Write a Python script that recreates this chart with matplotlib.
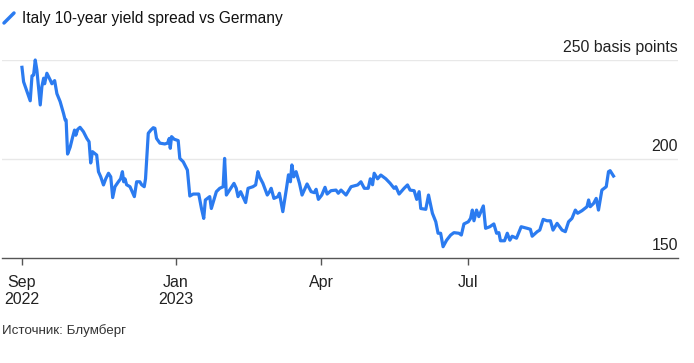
import numpy as np
import pandas as pd
import matplotlib
matplotlib.use('Agg')
import matplotlib.pyplot as plt
from matplotlib.lines import Line2D

plt.rcParams['font.family'] = ['Liberation Sans', 'DejaVu Sans']

# spread data, days counted from the first point
start_date = pd.Timestamp('2022-09-28')
day_offsets = [
    0.0, 1.0, 3.1, 5.1, 6.2, 7.2, 8.2, 9.2, 11.3, 12.3, 13.4, 14.0, 15.4, 17.4, 18.5,
    20.2, 21.6, 23.6, 25.7, 26.7, 27.3, 28.2, 29.8, 31.3, 32.5, 33.3, 34.5, 35.9, 38.0,
    40.1, 41.5, 42.5, 43.6, 46.2, 47.3, 48.7, 50.4, 51.8, 53.5, 54.9, 56.1, 57.5, 59.6,
    61.0, 62.1, 62.9, 63.7, 64.7, 66.8, 69.5, 70.9, 72.9, 74.0, 75.6, 76.4, 78.1, 79.7,
    81.2, 82.2, 83.2, 85.3, 88.3, 90.0, 91.1, 91.7, 92.5, 94.1, 95.6, 96.6, 97.6, 99.7,
    102.3, 103.8, 105.9, 109.3, 111.0, 112.4, 113.4, 116.1, 117.1, 120.2, 122.3, 124.4,
    125.3, 126.4, 128.4, 131.1, 132.5, 133.6, 135.2, 138.3, 139.8, 142.8, 144.5, 145.9,
    146.9, 149.0, 151.7, 153.1, 154.1, 155.8, 158.3, 159.2, 161.3, 163.4, 164.8, 166.0,
    166.9, 168.1, 169.5, 171.6, 173.2, 176.3, 178.8, 180.8, 181.9, 183.3, 185.4, 187.4,
    188.7, 191.1, 194.2, 195.6, 197.3, 200.4, 203.5, 207.6, 209.6, 211.7, 214.1, 215.4,
    216.8, 217.8, 219.9, 221.9, 225.0, 227.7, 230.1, 231.2, 233.2, 236.3, 238.4, 240.0,
    242.5, 244.1, 245.6, 246.6, 249.7, 251.4, 253.8, 255.9, 257.3, 258.9, 260.4, 262.6,
    265.1, 267.1, 270.2, 271.7, 273.3, 276.0, 277.4, 278.5, 279.5, 281.1, 282.5, 285.3,
    286.7, 289.3, 291.8, 293.5, 294.9, 295.9, 298.4, 300.1, 301.7, 303.1, 305.8, 308.7,
    312.4, 314.4, 315.5, 318.6, 320.2, 322.3, 324.7, 326.8, 328.4, 330.9, 334.0, 336.0,
    338.0, 340.1, 342.2, 343.6, 346.3, 349.4, 350.4, 351.4, 353.5, 355.1, 356.5, 358.6,
    361.3, 362.7, 363.7, 365.8,
]
spread_bp = [
    246.3, 239, 234, 229.4, 242, 242.4, 250, 245, 227.3, 236.5, 240.8, 238, 243.3, 240, 238,
    239.6, 233, 229, 223, 219.7, 219.7, 202.5, 206, 211, 214.6, 212, 215, 216, 213.8,
    210.4, 208.7, 198, 203.7, 202, 193.6, 191, 186.9, 190, 192.8, 191, 180.5, 186, 188.5,
    190, 193.6, 188.5, 190, 187, 186, 181, 188.5, 188.5, 187, 186, 190, 213, 214.6,
    215.8, 215.5, 210.4, 208, 207.6, 208, 210.4, 205.4, 211.3, 210, 209.6, 209.3, 200.3, 198.6,
    194.4, 181.3, 182.3, 182.3, 175, 170, 179.3, 181, 175, 183.5, 185.2, 186,
    200.3, 181.8, 184.3, 187.7, 185.2, 181, 183.5, 178, 185.2, 186, 186.9, 193.6,
    191, 187.7, 181.8, 183.5, 185.2, 180.1, 181, 182.7, 173.4, 184.3, 192, 188.5,
    197, 191, 193.6, 187.7, 181.8, 187.4, 183.5, 183, 184.7, 179.6, 181.8, 185.7,
    182.3, 184, 184.3, 182.7, 184.3, 181.8, 186, 186.9, 188.5, 185.2, 185.2, 190,
    187, 192.8, 190, 191.9, 190, 187.7, 185.2, 186, 182.3, 185.2, 186.9, 184.3,
    184, 179.6, 183.5, 175, 174.6, 181.8, 172.6, 168.3, 162.5, 162.5, 155.7, 159,
    161.6, 162.8, 162.5, 161.6, 167.2, 168.3, 170, 174.2, 168.8, 174.2, 170.9, 176.3,
    165, 165.8, 167.2, 162.5, 162.8, 158.7, 158.7, 162.5, 159, 161, 160, 165.8,
    165, 164.5, 161, 163.3, 164.1, 169.5, 168.8, 168.8, 164.1, 167.5, 164.1, 163.3,
    168.3, 170, 174.2, 172.6, 173.9, 175.9, 179.3, 175.9, 177.6, 180.1, 174.2, 184.3,
    186, 193.6, 194.1, 191.4,
]
tick_dates = ['2022-09-28', '2023-01-01', '2023-04-01', '2023-07-01']
tick_labels = ['Sep\n2022', 'Jan\n2023', 'Apr', 'Jul']
y_levels = [150, 200, 250]
y_labels = ['150', '200', '250 basis points']

dates = start_date + pd.to_timedelta(np.array(day_offsets), unit='D')

line_color = '#2b7bf0'
fig = plt.figure(figsize=(6.94, 3.63), dpi=100)
ax = fig.add_axes([0.003, 1 - 258 / 363, 0.974, 198 / 363])

ax.plot(dates, spread_bp, color=line_color, lw=2.3, solid_joinstyle='round', clip_on=False, zorder=3)

ax.set_ylim(150, 250)
ax.set_xlim(start_date - pd.Timedelta(days=12.3), start_date + pd.Timedelta(days=405.7))

for lvl in y_levels[1:]:
    ax.axhline(lvl, color='#e8e8e8', lw=1, zorder=1)
for lvl, lab in zip(y_levels, y_labels):
    ax.text(1.0, lvl + 2.5, lab, transform=ax.get_yaxis_transform(), ha='right', va='bottom',
            fontsize=11.4, color='#222222')

for s in ['top', 'right', 'left']:
    ax.spines[s].set_visible(False)
ax.spines['bottom'].set_color('#555555')
ax.spines['bottom'].set_linewidth(1)
ax.set_yticks([])
ax.set_xticks(pd.to_datetime(tick_dates))
ax.set_xticklabels(tick_labels, fontsize=11.5, color='#222222', linespacing=1.2)
ax.tick_params(axis='x', length=5, width=1, color='#555555', pad=7)

# title with the little legend stroke
fig.add_artist(Line2D([4 / 694, 14 / 694], [1 - 23 / 363, 1 - 13 / 363], color=line_color,
                      lw=2.5, solid_capstyle='round'))
fig.text(22 / 694, 1 - 18 / 363, 'Italy 10-year yield spread vs Germany', fontsize=11.2,
         color='#111111', va='center', ha='left')
fig.text(2 / 694, 1 - 331 / 363, 'Источник: Блумберг', fontsize=9.6, color='#333333',
         va='center', ha='left')

fig.savefig('out.png', dpi=100)
